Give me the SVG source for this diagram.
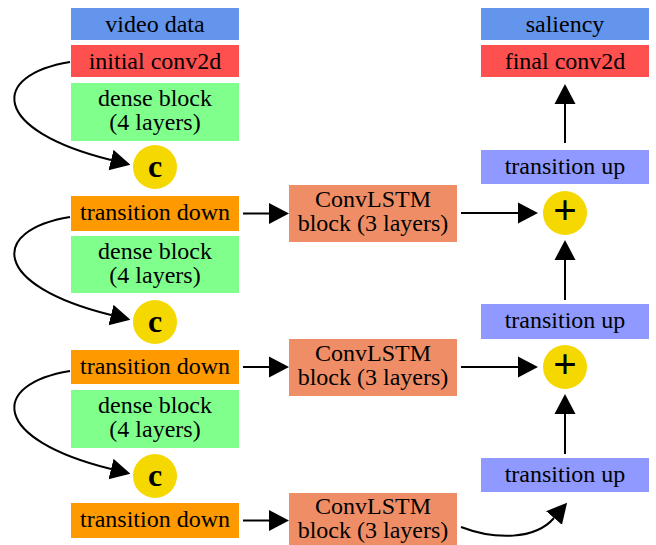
<svg xmlns="http://www.w3.org/2000/svg" width="656" height="545" viewBox="0 0 656 545">
<style>
text{font-family:"Liberation Serif","Times New Roman",serif;font-size:24px;fill:#000;text-anchor:middle}
.vid{fill:#6495ed}
.cnv{fill:#ff5050}
.dense{fill:#80ff8c}
.td{fill:#ff9900}
.lstm{fill:#ef8e66}
.tu{fill:#8f99ff}
.op{fill:#f5d800}
.c{font-size:32px;font-weight:bold}
.plus{font-size:42px;font-weight:bold}
.edge{fill:none;stroke:#000;stroke-width:2;marker-end:url(#ah)}
</style>
<defs>
<marker id="ah" markerWidth="20" markerHeight="22" viewBox="0 -11 20 22" refX="0" refY="0" orient="auto" markerUnits="userSpaceOnUse"><path d="M0,-10.5 L20,0 L0,10.5 z" fill="#000"/></marker>
</defs>
<rect width="656" height="545" fill="#fff"/>
<g id="connectors">
<path class="edge" d="M70,62 C-10,75 -10,130 111,160"/>
<path class="edge" d="M70,217 C-10,230 -10,285 111,315"/>
<path class="edge" d="M70,371 C-10,384 -10,439 111,469"/>
<path class="edge" d="M243,213.5 H269"/>
<path class="edge" d="M243,367 H269"/>
<path class="edge" d="M243,520.5 H269"/>
<path class="edge" d="M461,213 H518"/>
<path class="edge" d="M461,367 H518"/>
<path class="edge" d="M461,527 C495,540 535,540 554,518"/>
<path class="edge" d="M565,143 V104"/>
<path class="edge" d="M565,300 V260"/>
<path class="edge" d="M565,454 V414"/>
</g>
<g id="video_data"><rect class="vid" x="71" y="8" width="168" height="32"/><text x="155" y="32">video data</text></g>
<g id="initial_conv2d"><rect class="cnv" x="71" y="45" width="168" height="32"/><text x="155" y="69">initial conv2d</text></g>
<g id="dense1"><rect class="dense" x="71" y="83" width="168" height="58"/><text x="155" y="106">dense block</text><text x="155" y="130">(4 layers)</text></g>
<g id="concat1"><circle class="op" cx="155" cy="167" r="22"/><text class="c" x="155" y="177">c</text></g>
<g id="td1"><rect class="td" x="71" y="196" width="168" height="35"/><text x="155" y="220">transition down</text></g>
<g id="dense2"><rect class="dense" x="71" y="236" width="168" height="57"/><text x="155" y="259">dense block</text><text x="155" y="283">(4 layers)</text></g>
<g id="concat2"><circle class="op" cx="155" cy="322" r="22"/><text class="c" x="155" y="332">c</text></g>
<g id="td2"><rect class="td" x="71" y="350" width="168" height="34"/><text x="155" y="374">transition down</text></g>
<g id="dense3"><rect class="dense" x="71" y="390" width="168" height="58"/><text x="155" y="413">dense block</text><text x="155" y="437">(4 layers)</text></g>
<g id="concat3"><circle class="op" cx="155" cy="476" r="22"/><text class="c" x="155" y="486">c</text></g>
<g id="td3"><rect class="td" x="71" y="503" width="168" height="35"/><text x="155" y="527">transition down</text></g>
<g id="convlstm1"><rect class="lstm" x="289" y="185" width="168" height="57"/><text x="373" y="207">ConvLSTM</text><text x="373" y="231">block (3 layers)</text></g>
<g id="convlstm2"><rect class="lstm" x="289" y="339" width="168" height="57"/><text x="373" y="361">ConvLSTM</text><text x="373" y="385">block (3 layers)</text></g>
<g id="convlstm3"><rect class="lstm" x="289" y="493" width="168" height="57"/><text x="373" y="514">ConvLSTM</text><text x="373" y="538">block (3 layers)</text></g>
<g id="saliency"><rect class="vid" x="481" y="8" width="168" height="32"/><text x="565" y="32">saliency</text></g>
<g id="final_conv2d"><rect class="cnv" x="481" y="45" width="168" height="32"/><text x="565" y="69">final conv2d</text></g>
<g id="tu1"><rect class="tu" x="481" y="150" width="168" height="34"/><text x="565" y="174">transition up</text></g>
<g id="add1"><circle class="op" cx="565" cy="213" r="22"/><text class="plus" x="565" y="224">+</text></g>
<g id="tu2"><rect class="tu" x="481" y="304" width="168" height="35"/><text x="565" y="328">transition up</text></g>
<g id="add2"><circle class="op" cx="565" cy="367" r="22"/><text class="plus" x="565" y="378">+</text></g>
<g id="tu3"><rect class="tu" x="481" y="458" width="168" height="34"/><text x="565" y="482">transition up</text></g>
</svg>
